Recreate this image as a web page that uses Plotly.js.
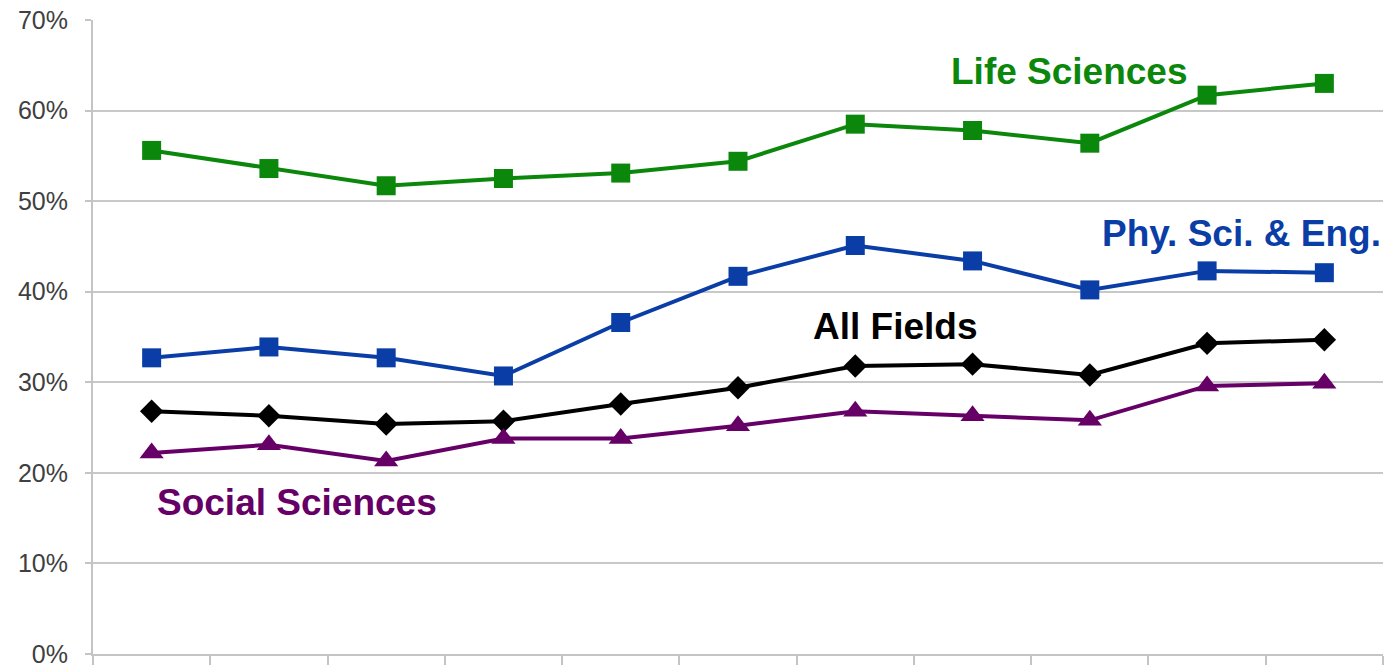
<!DOCTYPE html>
<html>
<head>
<meta charset="utf-8">
<script src="https://cdn.plot.ly/plotly-3.0.1.min.js"></script>
<style>html,body{margin:0;padding:0;background:#fff;}#chart{width:1391px;height:667px;}</style>
</head>
<body>
<div id="chart"></div>
<script>
var categories = ["1","2","3","4","5","6","7","8","9","10","11"];
var lifeSciences = [55.6, 53.6, 51.7, 52.5, 53.1, 54.4, 58.5, 57.8, 56.4, 61.7, 63.0];
var physSciEng   = [32.7, 33.9, 32.7, 30.7, 36.6, 41.7, 45.1, 43.4, 40.2, 42.3, 42.1];
var allFields    = [26.8, 26.3, 25.4, 25.7, 27.6, 29.4, 31.8, 32.0, 30.8, 34.3, 34.7];
var socialSci    = [22.2, 23.1, 21.3, 23.8, 23.8, 25.2, 26.8, 26.3, 25.8, 29.6, 29.9];
var yTicks = [0, 10, 20, 30, 40, 50, 60, 70];
var yTickLabels = yTicks.map(function (v) { return v + "%"; });

var green = "#0b870b", blue = "#0a3ea6", black = "#000000", purple = "#660066";

function series(name, y, color, symbol, size) {
  return {
    type: "scatter", mode: "lines+markers", name: name,
    x: categories, y: y,
    line: {color: color, width: 4},
    marker: {color: color, symbol: symbol, size: size, line: {width: 0}}
  };
}

var data = [
  series("Life Sciences", lifeSciences, green, "square", 19),
  series("Phy. Sci. & Eng.", physSciEng, blue, "square", 19),
  series("All Fields", allFields, black, "diamond", 18),
  series("Social Sciences", socialSci, purple, "triangle-up", 21)
];

var annFont = {family: "Liberation Sans, Arial, sans-serif", size: 37};
var layout = {
  width: 1391, height: 667,
  margin: {l: 93, r: 8, t: 20, b: 13},
  paper_bgcolor: "#fff", plot_bgcolor: "#fff",
  showlegend: false,
  font: {family: "Liberation Sans, Arial, sans-serif"},
  xaxis: {
    type: "category", range: [-0.5, 10.5],
    showticklabels: false, showgrid: false, zeroline: false,
    showline: true, linecolor: "#c4c4c4", linewidth: 2,
    ticks: "outside", tickson: "boundaries", ticklen: 9, tickwidth: 2, tickcolor: "#c4c4c4"
  },
  yaxis: {
    range: [0, 70], tickmode: "array", tickvals: yTicks, ticktext: yTickLabels,
    showgrid: true, gridcolor: "#c8c8c8", gridwidth: 2,
    zeroline: false, showline: true, linecolor: "#c4c4c4", linewidth: 2,
    ticks: "outside", ticklen: 6, tickwidth: 2, tickcolor: "#c4c4c4",
    ticklabelstandoff: 12, ticklabeloverflow: "allow",
    tickfont: {size: 25, color: "#404040", family: "Liberation Sans, Arial, sans-serif"}
  },
  annotations: [
    {text: "<b>Life Sciences</b>", xref: "paper", yref: "paper", x: 0.757, y: 0.918, xanchor: "center", yanchor: "middle", showarrow: false, font: Object.assign({}, annFont, {color: green})},
    {text: "<b>Phy. Sci. &amp; Eng.</b>", xref: "paper", yref: "paper", x: 0.890, y: 0.664, xanchor: "center", yanchor: "middle", showarrow: false, font: Object.assign({}, annFont, {color: blue})},
    {text: "<b>All Fields</b>", xref: "paper", yref: "paper", x: 0.622, y: 0.516, xanchor: "center", yanchor: "middle", showarrow: false, font: Object.assign({}, annFont, {color: black})},
    {text: "<b>Social Sciences</b>", xref: "paper", yref: "paper", x: 0.158, y: 0.239, xanchor: "center", yanchor: "middle", showarrow: false, font: Object.assign({}, annFont, {color: purple})}
  ]
};

Plotly.newPlot("chart", data, layout, {displayModeBar: false, staticPlot: true});
</script>
</body>
</html>
